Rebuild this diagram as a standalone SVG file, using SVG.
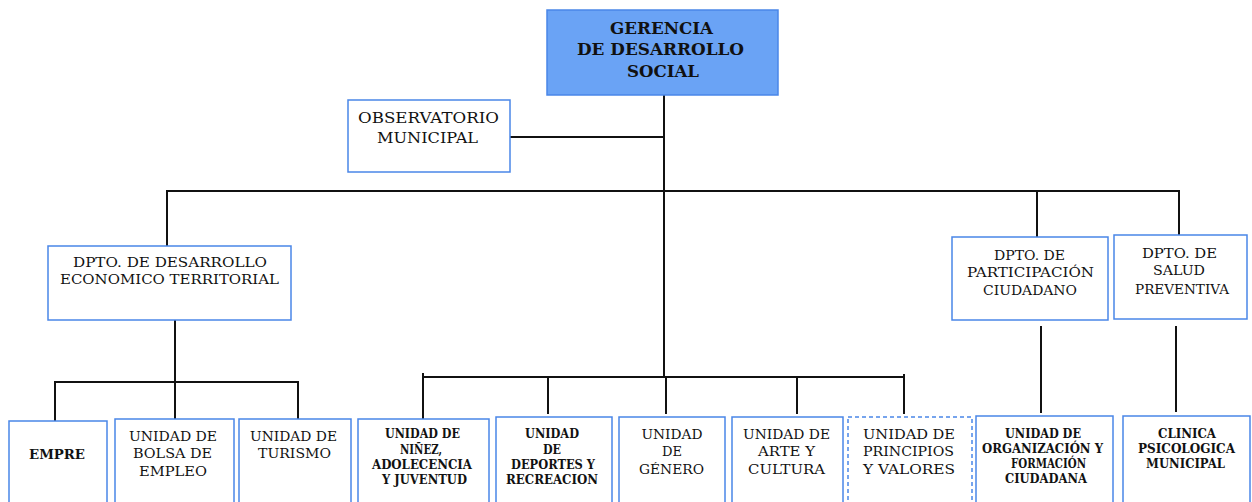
<svg xmlns="http://www.w3.org/2000/svg" width="1252" height="502" viewBox="0 0 1252 502">
<style>
.box{fill:#fff;stroke:#4a86e8;stroke-width:1.5}
.top{fill:#6aa3f5;stroke:#4a86e8;stroke-width:1.5}
.dash{fill:#fff;stroke:#4a86e8;stroke-width:1.5;stroke-dasharray:4 3}
.ln{stroke:#111;stroke-width:2;fill:none}
text{font-family:'DejaVu Serif','Liberation Serif',serif;fill:#111;text-anchor:middle;dominant-baseline:central}
.t18{font-size:16.5px;font-weight:bold}
.t15{font-size:15px}
.t14{font-size:13.5px}
.b14{font-size:13.5px;font-weight:bold}
.b13{font-size:12.5px;font-weight:bold}
</style>
<rect width="1252" height="502" fill="#fff"/>
<g id="connectors">
<line class="ln" x1="664" y1="95" x2="664" y2="378"/>
<line class="ln" x1="510" y1="137" x2="664" y2="137"/>
<line class="ln" x1="167" y1="191" x2="1180" y2="191"/>
<line class="ln" x1="167" y1="190" x2="167" y2="246"/>
<line class="ln" x1="1037" y1="190" x2="1037" y2="237"/>
<line class="ln" x1="1179" y1="190" x2="1179" y2="235"/>
<line class="ln" x1="175" y1="320" x2="175" y2="382"/>
<line class="ln" x1="54" y1="382" x2="298" y2="382"/>
<line class="ln" x1="55" y1="381" x2="55" y2="421"/>
<line class="ln" x1="175" y1="381" x2="175" y2="419"/>
<line class="ln" x1="298" y1="381" x2="298" y2="419"/>
<line class="ln" x1="423" y1="377" x2="905" y2="377"/>
<line class="ln" x1="423" y1="373" x2="423" y2="419"/>
<line class="ln" x1="548" y1="377" x2="548" y2="414"/>
<line class="ln" x1="666" y1="377" x2="666" y2="414"/>
<line class="ln" x1="797" y1="377" x2="797" y2="414"/>
<line class="ln" x1="904" y1="374" x2="904" y2="414"/>
<line class="ln" x1="1041" y1="326" x2="1041" y2="413"/>
<line class="ln" x1="1176" y1="326" x2="1176" y2="412"/>
</g>
<g id="gerencia">
<rect class="top" x="547" y="10" width="231" height="85"/>
<text class="t18" x="661.5" y="28" textLength="103" lengthAdjust="spacingAndGlyphs">GERENCIA</text>
<text class="t18" x="660.5" y="49" textLength="167" lengthAdjust="spacingAndGlyphs">DE DESARROLLO</text>
<text class="t18" x="663" y="71" textLength="72" lengthAdjust="spacingAndGlyphs">SOCIAL</text>
</g>
<g id="observatorio">
<rect class="box" x="348" y="100" width="162" height="72"/>
<text class="t15" x="428.5" y="118" textLength="141" lengthAdjust="spacingAndGlyphs">OBSERVATORIO</text>
<text class="t15" x="427.5" y="138" textLength="101" lengthAdjust="spacingAndGlyphs">MUNICIPAL</text>
</g>
<g id="dpto-desarrollo">
<rect class="box" x="48" y="246" width="243" height="74"/>
<text class="t14" x="170" y="262" textLength="194" lengthAdjust="spacingAndGlyphs">DPTO.  DE  DESARROLLO</text>
<text class="t14" x="169.5" y="279" textLength="219" lengthAdjust="spacingAndGlyphs">ECONOMICO  TERRITORIAL</text>
</g>
<g id="dpto-participacion">
<rect class="box" x="952" y="237" width="156" height="83"/>
<text class="t14" x="1029.5" y="255" textLength="71" lengthAdjust="spacingAndGlyphs">DPTO. DE</text>
<text class="t14" x="1030.5" y="272" textLength="127" lengthAdjust="spacingAndGlyphs">PARTICIPACIÓN</text>
<text class="t14" x="1030" y="290" textLength="94" lengthAdjust="spacingAndGlyphs">CIUDADANO</text>
</g>
<g id="dpto-salud">
<rect class="box" x="1114" y="235" width="133" height="84"/>
<text class="t14" x="1179.5" y="253" textLength="75" lengthAdjust="spacingAndGlyphs">DPTO.  DE</text>
<text class="t14" x="1179" y="270" textLength="52" lengthAdjust="spacingAndGlyphs">SALUD</text>
<text class="t14" x="1182" y="289" textLength="94" lengthAdjust="spacingAndGlyphs">PREVENTIVA</text>
</g>
<g id="empre">
<rect class="box" x="9" y="421" width="98" height="85"/>
<text class="b14" x="57" y="454" textLength="56" lengthAdjust="spacingAndGlyphs">EMPRE</text>
</g>
<g id="bolsa">
<rect class="box" x="115" y="419" width="119" height="87"/>
<text class="t14" x="173" y="436" textLength="88" lengthAdjust="spacingAndGlyphs">UNIDAD DE</text>
<text class="t14" x="172.5" y="453" textLength="79" lengthAdjust="spacingAndGlyphs">BOLSA DE</text>
<text class="t14" x="173" y="471" textLength="68" lengthAdjust="spacingAndGlyphs">EMPLEO</text>
</g>
<g id="turismo">
<rect class="box" x="239" y="419" width="112" height="87"/>
<text class="t14" x="293.5" y="436" textLength="87" lengthAdjust="spacingAndGlyphs">UNIDAD DE</text>
<text class="t14" x="294.5" y="453" textLength="73" lengthAdjust="spacingAndGlyphs">TURISMO</text>
</g>
<g id="ninez">
<rect class="box" x="358" y="419" width="131" height="87"/>
<text class="b13" x="422.5" y="433" textLength="75" lengthAdjust="spacingAndGlyphs">UNIDAD DE</text>
<text class="b13" x="421" y="449" textLength="42" lengthAdjust="spacingAndGlyphs">NIÑEZ,</text>
<text class="b13" x="422" y="464" textLength="100" lengthAdjust="spacingAndGlyphs">ADOLECENCIA</text>
<text class="b13" x="424.5" y="479" textLength="85" lengthAdjust="spacingAndGlyphs">Y JUVENTUD</text>
</g>
<g id="deportes">
<rect class="box" x="496" y="417" width="116" height="89"/>
<text class="b13" x="552" y="433" textLength="54" lengthAdjust="spacingAndGlyphs">UNIDAD</text>
<text class="b13" x="552" y="449" textLength="18" lengthAdjust="spacingAndGlyphs">DE</text>
<text class="b13" x="553" y="464" textLength="84" lengthAdjust="spacingAndGlyphs">DEPORTES Y</text>
<text class="b13" x="552" y="479" textLength="92" lengthAdjust="spacingAndGlyphs">RECREACION</text>
</g>
<g id="genero">
<rect class="box" x="619" y="417" width="106" height="89"/>
<text class="t14" x="672" y="434" textLength="61" lengthAdjust="spacingAndGlyphs">UNIDAD</text>
<text class="t14" x="672" y="451" textLength="20" lengthAdjust="spacingAndGlyphs">DE</text>
<text class="t14" x="671.5" y="469" textLength="65" lengthAdjust="spacingAndGlyphs">GÉNERO</text>
</g>
<g id="arte">
<rect class="box" x="732" y="417" width="111" height="89"/>
<text class="t14" x="786.5" y="434" textLength="87" lengthAdjust="spacingAndGlyphs">UNIDAD DE</text>
<text class="t14" x="786.5" y="451" textLength="57" lengthAdjust="spacingAndGlyphs">ARTE Y</text>
<text class="t14" x="786.5" y="469" textLength="77" lengthAdjust="spacingAndGlyphs">CULTURA</text>
</g>
<g id="principios">
<rect class="dash" x="848" y="417" width="124" height="89"/>
<text class="t14" x="909" y="434" textLength="92" lengthAdjust="spacingAndGlyphs">UNIDAD  DE</text>
<text class="t14" x="908.5" y="451" textLength="91" lengthAdjust="spacingAndGlyphs">PRINCIPIOS</text>
<text class="t14" x="909" y="469" textLength="92" lengthAdjust="spacingAndGlyphs">Y VALORES</text>
</g>
<g id="organizacion">
<rect class="box" x="976" y="416" width="137" height="90"/>
<text class="b13" x="1043" y="433" textLength="76" lengthAdjust="spacingAndGlyphs">UNIDAD DE</text>
<text class="b13" x="1042.5" y="448" textLength="121" lengthAdjust="spacingAndGlyphs">ORGANIZACIÓN Y</text>
<text class="b13" x="1048.5" y="463" textLength="75" lengthAdjust="spacingAndGlyphs">FORMACIÓN</text>
<text class="b13" x="1046" y="478" textLength="82" lengthAdjust="spacingAndGlyphs">CIUDADANA</text>
</g>
<g id="clinica">
<rect class="box" x="1123" y="416" width="127" height="90"/>
<text class="b13" x="1187" y="433" textLength="58" lengthAdjust="spacingAndGlyphs">CLINICA</text>
<text class="b13" x="1186.5" y="448" textLength="97" lengthAdjust="spacingAndGlyphs">PSICOLOGICA</text>
<text class="b13" x="1185.5" y="463" textLength="79" lengthAdjust="spacingAndGlyphs">MUNICIPAL</text>
</g>
</svg>
